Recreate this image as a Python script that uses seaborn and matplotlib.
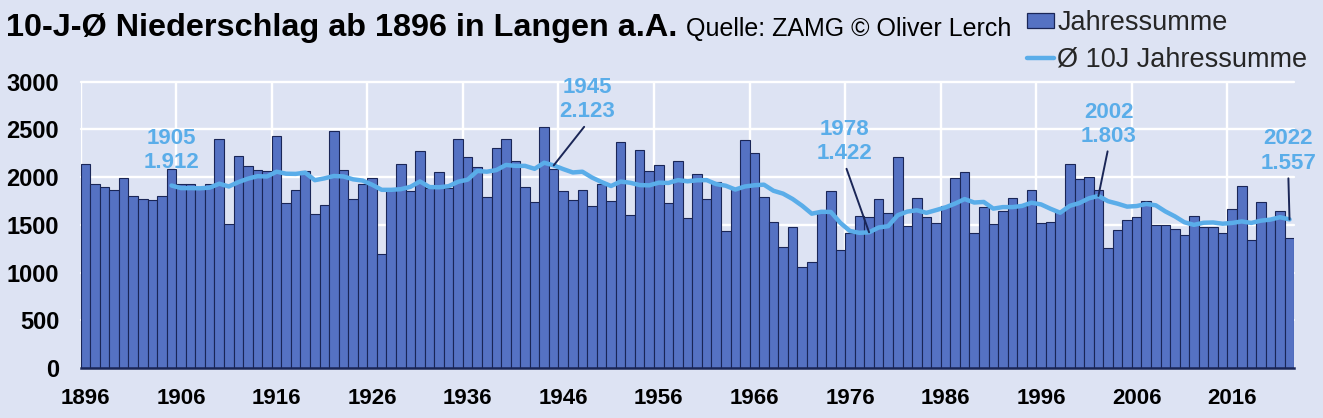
import matplotlib
matplotlib.use("Agg")
import matplotlib.pyplot as plt
import seaborn as sns
import pandas as pd
from matplotlib.patches import Patch
from matplotlib.lines import Line2D
from matplotlib.ticker import MultipleLocator, FixedLocator

# ---------------- data ----------------
years = list(range(1896, 2023))
jahressumme = [
    2141, 1932, 1900, 1862, 1995, 1806, 1768, 1757, 1806, 2089,   # 1896-1905
    1932, 1932, 1886, 1932, 2403, 1513, 2225, 2120, 2071, 2060,   # 1906-1915
    2427, 1726, 1862, 2061, 1611, 1705, 2479, 2071, 1768, 1925,   # 1916-1925
    1988, 1196, 1865, 2134, 1852, 2270, 1890, 2050, 1883, 2396,   # 1926-1935
    2207, 2103, 1789, 2301, 2396, 2165, 1893, 1737, 2521, 2082,   # 1936-1945
    1852, 1757, 1862, 1695, 1925, 1747, 2364, 1601, 2280, 2061,   # 1946-1955
    2124, 1726, 2165, 1569, 2029, 1768, 1946, 1433, 1875, 2385,   # 1956-1965
    2249, 1789, 1527, 1266, 1475, 1057, 1109, 1639, 1852, 1234,   # 1966-1975
    1412, 1590, 1580, 1768, 1621, 2207, 1485, 1778, 1580, 1517,   # 1976-1985
    1702, 1988, 2050, 1412, 1684, 1506, 1642, 1778, 1700, 1862,   # 1986-1995
    1517, 1527, 1640, 2134, 1977, 2005, 1862, 1255, 1444, 1548,   # 1996-2005
    1580, 1747, 1496, 1496, 1454, 1391, 1590, 1475, 1475, 1412,   # 2006-2015
    1663, 1904, 1339, 1737, 1560, 1642, 1360,                     # 2016-2022
]
avg_years = list(range(1905, 2023))
avg10 = [
    1912,                                                         # 1905
    1885, 1885, 1883, 1890, 1931, 1902, 1948, 1984, 2010, 2007,   # 1906-1915
    2057, 2036, 2034, 2047, 1968, 1987, 2012, 2007, 1977, 1964,   # 1916-1925
    1920, 1867, 1867, 1874, 1898, 1955, 1896, 1894, 1905, 1952,   # 1926-1935
    1974, 2065, 2057, 2074, 2128, 2118, 2118, 2087, 2151, 2123,   # 1936-1945
    2084, 2049, 2057, 1996, 1949, 1907, 1954, 1941, 1917, 1914,   # 1946-1955
    1942, 1939, 1969, 1956, 1967, 1969, 1927, 1910, 1870, 1902,   # 1956-1965
    1915, 1921, 1857, 1827, 1771, 1700, 1617, 1637, 1635, 1520,   # 1966-1975
    1436, 1416, 1422, 1472, 1486, 1601, 1639, 1653, 1626, 1654,   # 1976-1985
    1683, 1723, 1770, 1734, 1740, 1670, 1686, 1686, 1698, 1732,   # 1986-1995
    1714, 1668, 1627, 1699, 1728, 1778, 1803, 1748, 1722, 1691,   # 1996-2005
    1697, 1719, 1705, 1641, 1589, 1527, 1500, 1522, 1525, 1512,   # 2006-2015
    1520, 1536, 1520, 1544, 1555, 1580, 1557,                     # 2016-2022
]
highlight_years = [1905, 1945, 1978, 2002, 2022]
highlight_values = [1912, 2123, 1422, 1803, 1557]
tick_years = years[::10]

title = "10-J-Ø Niederschlag ab 1896 in Langen a.A."
source = "Quelle: ZAMG © Oliver Lerch"
label_bars = "Jahressumme"
label_line = "Ø 10J Jahressumme"

# ---------------- style ----------------
BG = "#dde3f3"
BAR = "#5572c3"
EDGE = "#1a2657"
LINE = "#5aade9"

sns.set_style("white")
plt.rcParams["font.family"] = ["Liberation Sans", "DejaVu Sans"]

W, H = 1323, 418
fig = plt.figure(figsize=(W / 100, H / 100), dpi=100, facecolor=BG)
ax = fig.add_axes([80.7 / W, 1 - 368 / H, (1294.3 - 80.7) / W, (368 - 81.7) / H])
ax.set_facecolor(BG)

df = pd.DataFrame({"Jahr": years, "Jahressumme": jahressumme})
sns.barplot(data=df, x="Jahr", y="Jahressumme", orient="x", color=BAR,
            saturation=1, width=1.0, edgecolor=EDGE, linewidth=0.8,
            errorbar=None, ax=ax, zorder=2)

pos = {y: i for i, y in enumerate(years)}
avg_pos = [pos[y] for y in avg_years]
sns.lineplot(x=avg_pos, y=avg10, color=LINE, linewidth=3.2, ax=ax, zorder=4,
             solid_capstyle="round", solid_joinstyle="round")

ax.set_xlim(-0.5, len(years) - 0.5)
ax.set_ylim(0, 3000)
ax.set_xlabel("")
ax.set_ylabel("")

# ticks & grid
ax.yaxis.set_major_locator(MultipleLocator(500))
ax.xaxis.set_major_locator(FixedLocator([pos[y] for y in tick_years]))
ax.set_xticklabels([str(y) for y in tick_years])
ax.xaxis.set_minor_locator(FixedLocator([pos[y] - 0.5 for y in tick_years]))
ax.set_axisbelow(True)
ax.grid(axis="y", which="major", color="white", linewidth=1.7)
ax.grid(axis="x", which="minor", color="white", linewidth=1.7)
ax.grid(axis="x", which="major", visible=False)
for gl in ax.get_ygridlines():
    gl.set_clip_on(False)
ax.tick_params(axis="both", which="both", length=0)
ax.tick_params(axis="x", pad=14.5, labelsize=16)
ax.tick_params(axis="y", pad=15.5, labelsize=17)
for lab in ax.get_xticklabels() + ax.get_yticklabels():
    lab.set_fontweight("bold")
    lab.set_color("black")

for side in ["top", "left", "right"]:
    ax.spines[side].set_visible(False)
ax.spines["bottom"].set_color(EDGE)
ax.spines["bottom"].set_linewidth(1.8)
ax.spines["bottom"].set_zorder(5)

# annotations
offsets = [(0, 25), (24.4, 47.2), (-17.4, 65.3), (7.3, 51.7), (-0.9, 49.2)]
leaders = [False, True, True, True, True]
for yr, val, off, lead in zip(highlight_years, highlight_values, offsets, leaders):
    txt = f"{yr}\n{val:,}".replace(",", ".")
    kw = {}
    if lead:
        kw["arrowprops"] = dict(arrowstyle="-", color=EDGE, lw=1.4,
                                shrinkA=1, shrinkB=0, relpos=(0.5, 0))
    ax.annotate(txt, xy=(pos[yr], val), xytext=off, textcoords="offset points",
                ha="center", va="center", fontsize=16, fontweight="bold",
                color=LINE, linespacing=1.2, annotation_clip=False, zorder=6, **kw)

# title & source
fig.text(6 / W, 1 - 36 / H, title, fontsize=23.3, fontweight="bold",
         color="black", ha="left", va="baseline")
fig.text(686 / W, 1 - 36 / H, source, fontsize=18, color="black",
         ha="left", va="baseline")

# legend
handles = [Patch(facecolor=BAR, edgecolor=EDGE, linewidth=0.9),
           Line2D([0], [0], color=LINE, linewidth=3.2)]
fig.legend(handles, [label_bars, label_line], loc="upper left",
           bbox_to_anchor=(1027 / W, 1 - 10 / H), frameon=False,
           fontsize=19.5, handlelength=1.0, handleheight=0.5,
           handletextpad=0.12, labelspacing=0.4, borderpad=0,
           borderaxespad=0)

fig.savefig("out.png", dpi=100, facecolor=BG)
